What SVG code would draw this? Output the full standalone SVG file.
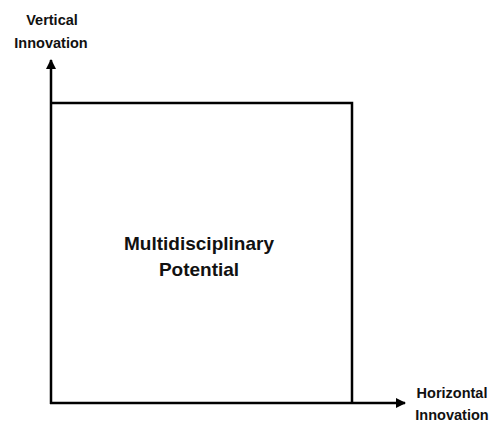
<svg xmlns="http://www.w3.org/2000/svg" width="491" height="422" viewBox="0 0 491 422">
<style>
.lbl{font-family:"Liberation Sans",Arial,sans-serif;font-weight:bold;fill:#111;text-anchor:middle}
.ax{font-size:14.5px}
.ctr{font-size:19px}
.ln{stroke:#000;stroke-width:2.5;fill:none}
</style>
<defs>
<marker id="arr" viewBox="0 0 10 10" refX="9" refY="5" markerWidth="4" markerHeight="4" orient="auto" markerUnits="strokeWidth">
<path d="M0,0 L10,5 L0,10 z" fill="#000"/>
</marker>
</defs>
<g id="connectors">
<line class="ln" x1="51" y1="404" x2="51" y2="60" marker-end="url(#arr)"/>
<line class="ln" x1="50" y1="403" x2="405" y2="403" marker-end="url(#arr)"/>
</g>
<g id="box">
<polyline class="ln" points="51,103 352,103 352,403"/>
</g>
<g id="center-label">
<text class="lbl ctr" x="199" y="250">Multidisciplinary</text>
<text class="lbl ctr" x="199" y="276">Potential</text>
</g>
<g id="vertical-label">
<text class="lbl ax" x="52" y="25">Vertical</text>
<text class="lbl ax" x="51" y="48">Innovation</text>
</g>
<g id="horizontal-label">
<text class="lbl ax" x="452" y="398">Horizontal</text>
<text class="lbl ax" x="452" y="420">Innovation</text>
</g>
</svg>
